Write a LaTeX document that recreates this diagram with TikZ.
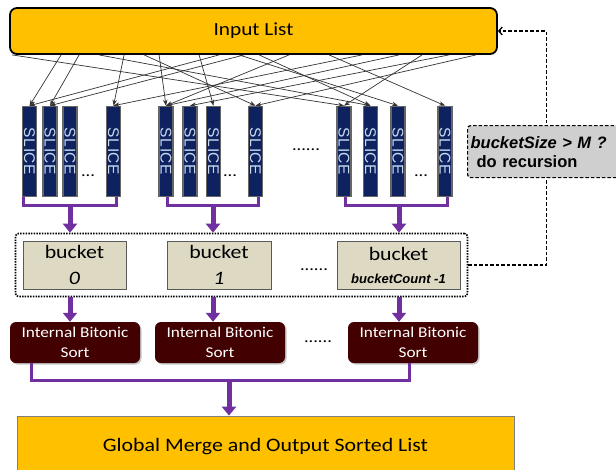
\documentclass[tikz,border=0pt]{standalone}
\usepackage{fontspec}
\setmainfont{Carlito}[FakeStretch=1.15]
\newfontfamily\arialfont{Liberation Sans}
\newfontfamily\slicefont{Liberation Sans}[LetterSpace=4]
\usetikzlibrary{arrows.meta,shadows,fit}
\definecolor{listorange}{HTML}{FFC000}
\definecolor{slicenavy}{HTML}{0F2260}
\definecolor{slicetxt}{HTML}{C6D9F1}
\definecolor{bucketfill}{HTML}{DDD9C3}
\definecolor{sortred}{HTML}{420000}
\definecolor{flowpurple}{HTML}{7030A0}
\definecolor{recurgray}{HTML}{CFCFCF}
\begin{document}
\begin{tikzpicture}[x=1pt,y=-1pt,
	slice/.style={draw=gray!80!black, line width=1.6pt, fill=slicenavy, minimum width=14pt, minimum height=90pt, inner sep=0pt},
	slicetext/.style={text=slicetxt, font=\slicefont\fontsize{15.5}{15}\selectfont, inner sep=0pt},
	feed/.style={draw=black!80, line width=0.7pt, -{Stealth[length=6pt,width=4.5pt]}},
	groupline/.style={draw=flowpurple, line width=3pt},
	bigarrow/.style={draw=flowpurple, line width=5pt, -{Triangle[length=9pt,width=14pt]}},
	bucketbox/.style={draw=gray!70!black, line width=1pt, fill=bucketfill, minimum height=48pt, align=center, font=\fontsize{19}{26}\selectfont},
	sortbox/.style={fill=sortred, rounded corners=6pt, text=white, align=center, font=\fontsize{15}{20}\selectfont, minimum width=130pt, minimum height=41pt, drop shadow={shadow xshift=1.5pt, shadow yshift=-1.5pt, opacity=0.45}},
	dotstext/.style={font=\fontsize{16}{16}\selectfont, inner sep=0pt}
]
	\useasboundingbox (0,0) rectangle (616,469);
	\node[draw=black, line width=1.8pt, rounded corners=7pt, fill=listorange, minimum width=487pt, minimum height=46pt, font=\fontsize{18.5}{22}\selectfont] (inlist) at (253.5,31) {Input List};
	\foreach \i/\x in {1/29.5,2/50,3/70,4/113.5,5/166,6/190,7/213.5,8/255.5,9/344,10/370.5,11/398,12/445}{
		\node[slice] (s\i) at (\x,151.5) {};
		\node[slicetext, rotate=-90] at (s\i) {SLICE};
	}
	\foreach \sx/\t in {62/1,220/1,80/2,245/2,125/4,363/4,160/5,290/5,400/5,450/6,200/7,145/8,477/8,13/9,423/9,100/10,260/10,240/11,330/12}
		\draw[feed] ([xshift=\sx pt-10pt]inlist.south west) -- (s\t.north);
	\node[dotstext] at (88,176) {...};
	\node[dotstext] at (230,176) {...};
	\node[dotstext] at (421,176) {...};
	\node[dotstext] at (306,150) {......};
	% buckets
	\node[bucketbox, minimum width=103pt] (b0) at (74.5,265) {bucket\\\textit{0}};
	\node[bucketbox, minimum width=104pt] (b1) at (219,265) {bucket\\\textit{1}};
	\node[bucketbox, minimum width=123pt] (bn) at (398.5,265) {bucket\\[-3pt]{\arialfont\bfseries\itshape\fontsize{13}{15}\selectfont bucketCount -1}};
	\node[draw=black, line width=1.6pt, dash pattern=on 1.5pt off 1.2pt, rounded corners=3pt, inner sep=7pt, fit=(b0)(bn)] (bucketset) {};
	\node[dotstext] at (314,270) {......};
	\foreach \a/\b/\la/\rb/\mx in {1/4/-6.5/2.5/70, 5/8/1/2.5/213, 9/12/1/2/399}{
		\draw[groupline] ([xshift=\la pt]s\a.south) -- ++(0,8.5) -| ([xshift=\rb pt]s\b.south);
		\coordinate (j\a) at (\mx,205);
		\draw[bigarrow] (j\a) -- (j\a |- bucketset.north);
	}
	% recursion
	\draw[line width=1.3pt, dash pattern=on 3.5pt off 2pt, -{Straight Barb[length=3.5pt,width=8pt]}] (bucketset.east) -- ++(78,0) |- (inlist.east);
	\node[draw=black, fill=recurgray, line width=1.2pt, dash pattern=on 3.5pt off 2pt, rounded corners=3pt, anchor=north west, text width=160pt, inner xsep=3pt, minimum height=52pt, align=left, font=\arialfont\bfseries\fontsize{16.5}{19}\selectfont] (recur) at (467,125) {\textit{bucketSize > M ?}\\\hspace*{6pt}do recursion};
	% sorting
	\node[sortbox] (sort0) at (75,342.5) {Internal Bitonic\\Sort};
	\node[sortbox] (sort1) at (220,342.5) {Internal Bitonic\\Sort};
	\node[sortbox] (sortn) at (413,342.5) {Internal Bitonic\\Sort};
	\node[dotstext] at (318,342) {......};
	\draw[bigarrow] (j1 |- bucketset.south) -- (j1 |- sort0.north);
	\draw[bigarrow] (j5 |- bucketset.south) -- (j5 |- sort1.north);
	\draw[bigarrow] (j9 |- bucketset.south) -- (j9 |- sortn.north);
	\node[draw=gray, line width=0.8pt, fill=listorange, minimum width=497pt, minimum height=62pt, font=\fontsize{19}{22}\selectfont] (merge) at (265.5,447) {Global Merge and Output Sorted List};
	\draw[groupline] ([xshift=-44pt]sort0.south) -- ++(0,17) -| ([xshift=-4pt]sortn.south);
	\coordinate (jm) at (229,380);
	\draw[bigarrow] (jm) -- (jm |- merge.north);
\end{tikzpicture}
\end{document}
